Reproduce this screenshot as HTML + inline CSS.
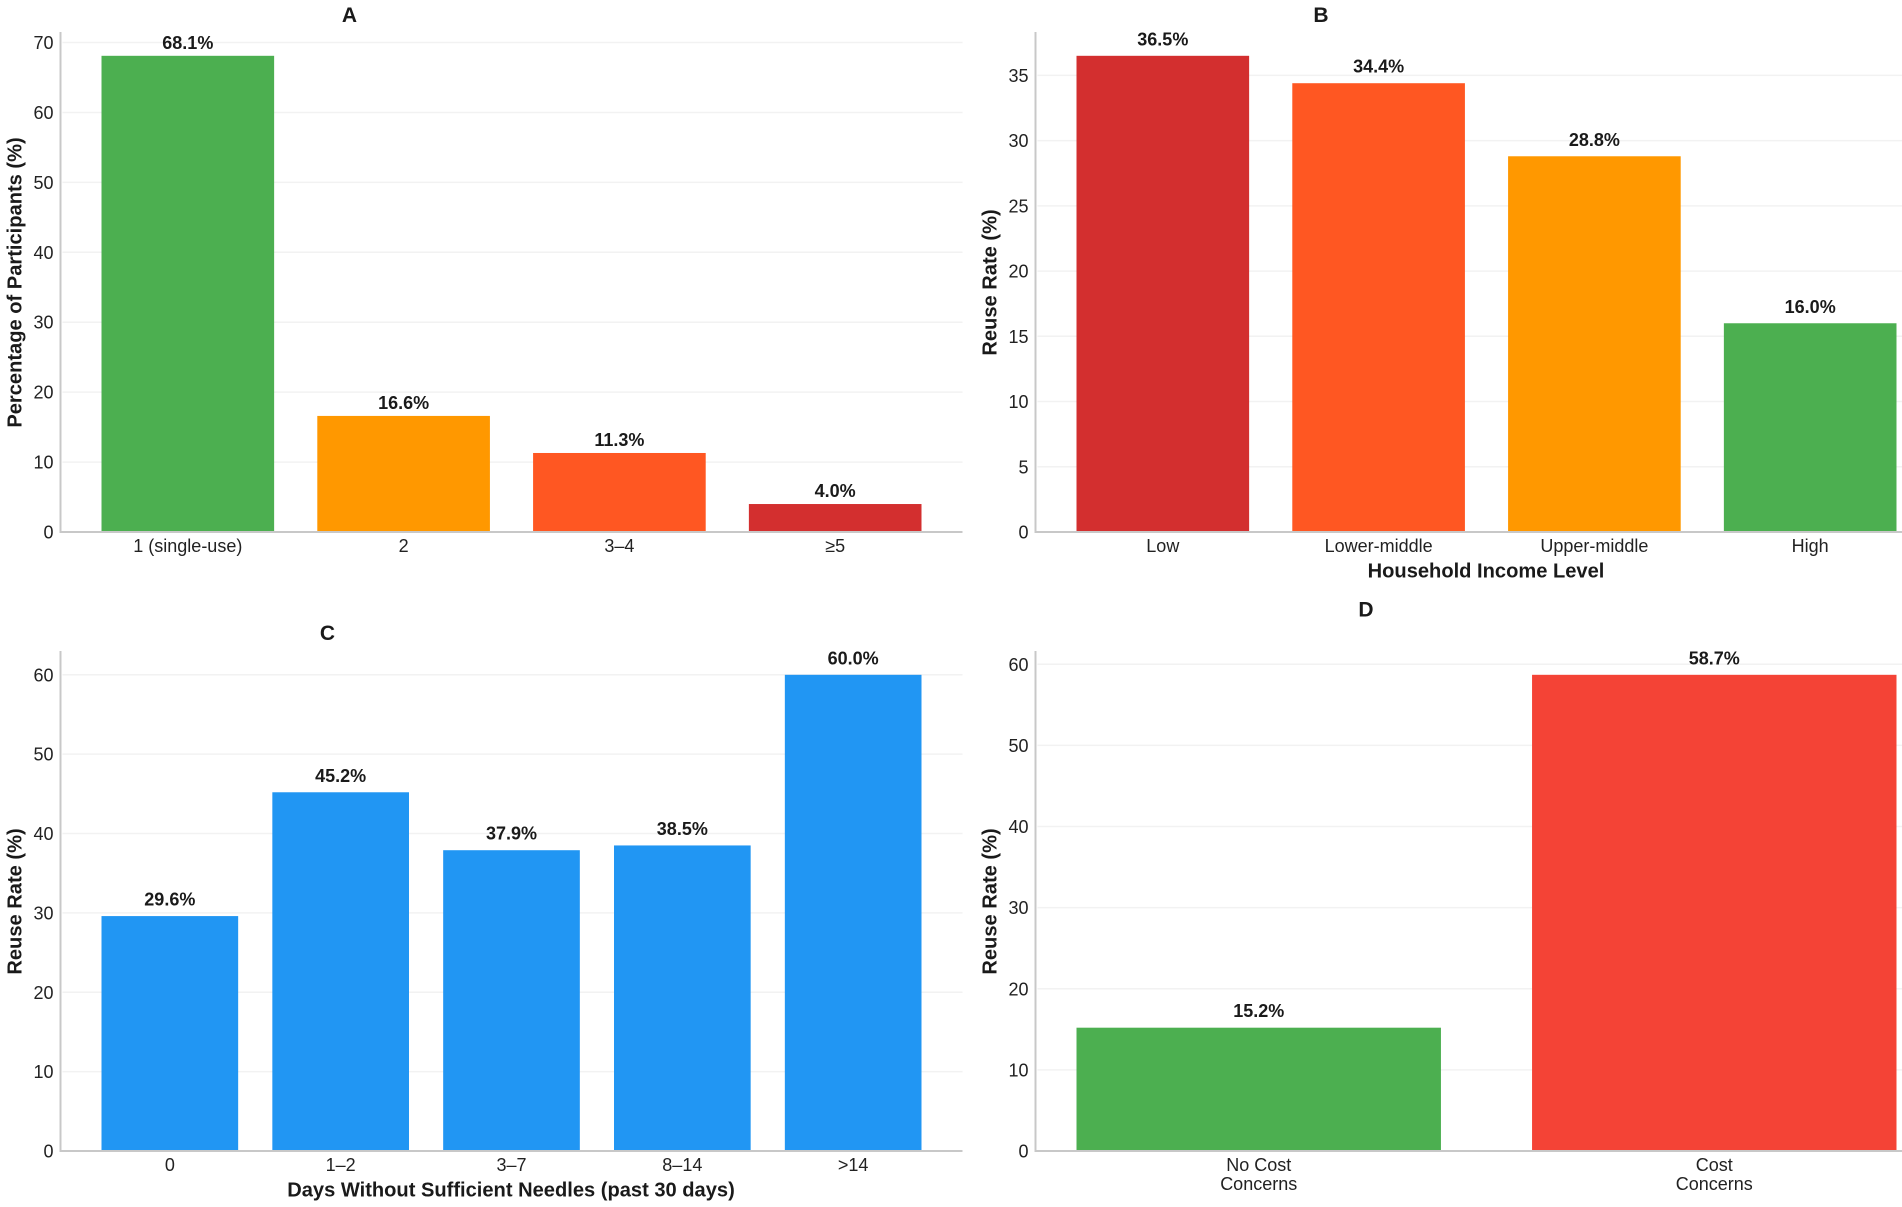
<!DOCTYPE html>
<html lang="en">
<head>
<meta charset="utf-8">
<title>Needle reuse charts</title>
<style>
  html, body { margin: 0; padding: 0; background: #fff; width: 1902px; height: 1207px; overflow: hidden; }
  svg { display: block; font-family: "Liberation Sans", Arial, sans-serif; filter: blur(0.3px); }
  .tick { font-size: 18px; fill: #222; }
  .val { font-size: 18px; font-weight: bold; fill: #1a1a1a; }
  .axt { font-size: 20.1px; font-weight: bold; fill: #1a1a1a; }
  .ttl { font-size: 21px; font-weight: bold; fill: #1a1a1a; }
</style>
</head>
<body>
<svg id="figure" width="1902" height="1207" viewBox="0 0 1902 1207" xmlns="http://www.w3.org/2000/svg"></svg>
<script>
// Panel A
const aCategories = ['1 (single-use)', '2', '3–4', '≥5'];
const aValues = [68.1, 16.6, 11.3, 4.0];
const aTicks = [0, 10, 20, 30, 40, 50, 60, 70];
// Panel B
const bCategories = ['Low', 'Lower-middle', 'Upper-middle', 'High'];
const bValues = [36.5, 34.4, 28.8, 16.0];
const bTicks = [0, 5, 10, 15, 20, 25, 30, 35];
// Panel C
const cCategories = ['0', '1–2', '3–7', '8–14', '>14'];
const cValues = [29.6, 45.2, 37.9, 38.5, 60.0];
const cTicks = [0, 10, 20, 30, 40, 50, 60];
// Panel D
const dCategories = ['No Cost\nConcerns', 'Cost\nConcerns'];
const dValues = [15.2, 58.7];
const dTicks = [0, 10, 20, 30, 40, 50, 60];

const aFills = ['#4CAF50', '#FF9800', '#FF5722', '#D32F2F'];
const bFills = ['#D32F2F', '#FF5722', '#FF9800', '#4CAF50'];
const cFills = ['#2196F3', '#2196F3', '#2196F3', '#2196F3', '#2196F3'];
const dFills = ['#4CAF50', '#F44336'];

const NS = 'http://www.w3.org/2000/svg';
const fig = document.getElementById('figure');

function make(tag, parent, attrs) {
  const el = document.createElementNS(NS, tag);
  for (const k in attrs) el.setAttribute(k, attrs[k]);
  parent.appendChild(el);
  return el;
}

function drawPanel(p) {
  const plotW = 902, plotH = 500, margin = 41, barFrac = 0.8;
  const bottom = p.top + plotH;
  const yMax = Math.max(...p.values) * 1.05;
  const yScale = v => bottom - (v / yMax) * plotH;
  const step = (plotW - 2 * margin) / (p.categories.length - 1 + barFrac);
  const xCenter = i => p.left + margin + step * (i + barFrac / 2);
  const barW = step * barFrac;

  const g = make('g', fig, {});
  
  

  p.ticks.filter(t => t > 0 && t <= yMax).forEach(t => {
    const line = make('line', g, { x1: p.left + 2, x2: p.left + plotW, y1: yScale(t), y2: yScale(t), stroke: '#f2f2f2', 'stroke-width': 1.5 });
    
    
  });

  p.values.forEach((v, i) => {
    const bar = make('rect', g, { x: xCenter(i) - barW / 2, y: yScale(v), width: barW, height: bottom - yScale(v), fill: p.fills[i] });
    
    

    const label = make('text', g, { x: xCenter(i), y: yScale(v) - p.valueGap, 'text-anchor': 'middle', class: 'val' });
    
    
    label.textContent = v.toFixed(1) + '%';
  });

  const yAxis = make('line', g, { x1: p.left, x2: p.left, y1: p.top, y2: bottom + 1, stroke: '#c8c8c8', 'stroke-width': 2 });
  
  

  const xAxis = make('line', g, { x1: p.left - 1, x2: p.left + plotW, y1: bottom, y2: bottom, stroke: '#c8c8c8', 'stroke-width': 2 });
  
  

  p.ticks.filter(t => t <= yMax).forEach(t => {
    const tl = make('text', g, { x: p.left - 7, y: yScale(t) + 6.5, 'text-anchor': 'end', class: 'tick' });
    
    
    tl.textContent = t;
  });

  p.categories.forEach((c, i) => {
    const tl = make('text', g, { 'text-anchor': 'middle', class: 'tick' });
    
    
    c.split('\n').forEach((part, j) => {
      const sp = make('tspan', tl, { x: xCenter(i), y: bottom + 20 + j * 18.8 });
      sp.textContent = part;
    });
  });

  const title = make('text', g, { x: p.titleX, y: p.titleY, 'text-anchor': 'middle', class: 'ttl' });
  
  
  title.textContent = p.title;

  const yTitle = make('text', g, { transform: 'translate(' + (p.left - 45.5) + ',' + (p.top + 250.5) + ') rotate(-90)', 'text-anchor': 'middle', class: 'axt', y: 6.5 });
  
  
  yTitle.textContent = p.yLabel;

  if (p.xLabel) {
    const xTitle = make('text', g, { x: p.xLabelX, y: bottom + 45.5, 'text-anchor': 'middle', class: 'axt' });
    
    
    xTitle.textContent = p.xLabel;
  }
}

drawPanel({ id: 'a', left: 60.5, top: 32, categories: aCategories, values: aValues, ticks: aTicks, fills: aFills, valueGap: 7,
  title: 'A', titleX: 349.5, titleY: 22, yLabel: 'Percentage of Participants (%)' });
drawPanel({ id: 'b', left: 1035.5, top: 32, categories: bCategories, values: bValues, ticks: bTicks, fills: bFills, valueGap: 10.5,
  title: 'B', titleX: 1321, titleY: 22, yLabel: 'Reuse Rate (%)', xLabel: 'Household Income Level', xLabelX: 1486 });
drawPanel({ id: 'c', left: 60.5, top: 651, categories: cCategories, values: cValues, ticks: cTicks, fills: cFills, valueGap: 10.5,
  title: 'C', titleX: 327.5, titleY: 640, yLabel: 'Reuse Rate (%)', xLabel: 'Days Without Sufficient Needles (past 30 days)', xLabelX: 511 });
drawPanel({ id: 'd', left: 1035.5, top: 651, categories: dCategories, values: dValues, ticks: dTicks, fills: dFills, valueGap: 10.5,
  title: 'D', titleX: 1366, titleY: 616.5, yLabel: 'Reuse Rate (%)' });
</script>
</body>
</html>
